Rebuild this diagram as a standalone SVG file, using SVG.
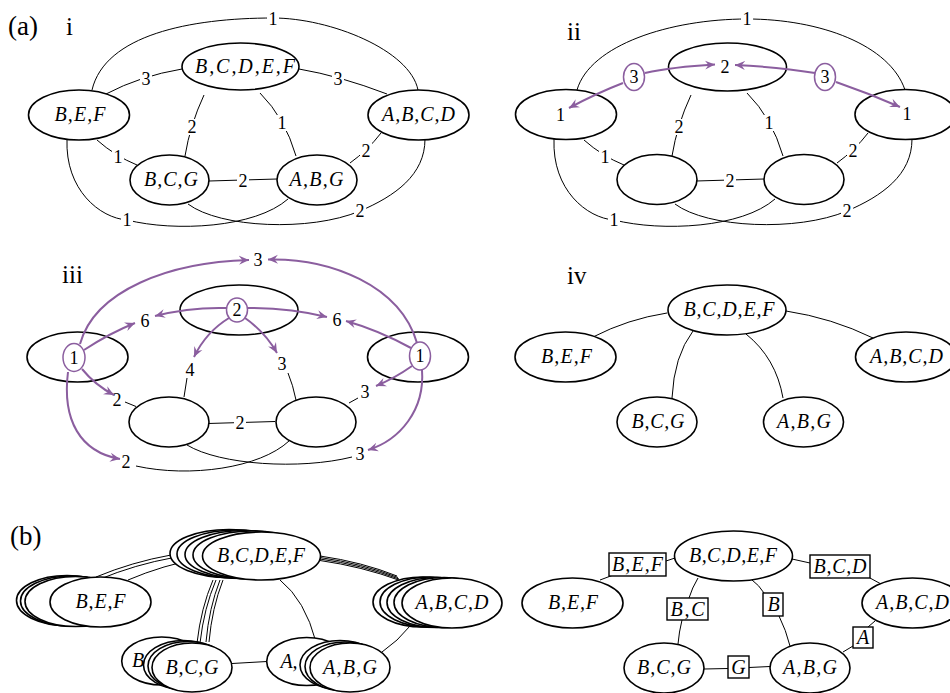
<svg xmlns="http://www.w3.org/2000/svg" width="950" height="693" viewBox="0 0 950 693">
<defs>
<style>
.n{fill:#fff;stroke:#000;stroke-width:1.6}
.e{fill:none;stroke:#000;stroke-width:1}
.p{fill:none;stroke:#8b5e9f;stroke-width:2;marker-end:url(#ah)}
.pc{fill:#fff;stroke:#8b5e9f;stroke-width:1.5}
.t{font-family:"Liberation Serif",serif;font-style:italic;font-size:20px;text-anchor:middle}
.d{font-family:"Liberation Serif",serif;font-size:18px;text-anchor:middle}
.h{font-family:"Liberation Serif",serif;font-size:25px}
.bg{fill:#fff}
.bx{fill:#fff;stroke:#000;stroke-width:1.4}
</style>
<marker id="ah" viewBox="-10 -5 11 10" refX="0" refY="0" markerWidth="11" markerHeight="10" markerUnits="userSpaceOnUse" orient="auto">
<path d="M0,0 L-10,-4.5 L-6.5,0 L-10,4.5 Z" fill="#8b5e9f"/>
</marker>
</defs>
<rect width="950" height="693" fill="#fff"/>

<!-- headings -->
<text class="h" x="8" y="35" font-size="27" style="font-size:27px">(a)</text>
<text class="h" x="66" y="35">i</text>
<text class="h" x="567" y="40">ii</text>
<text class="h" x="62" y="283">iii</text>
<text class="h" x="567" y="284">iv</text>
<text class="h" x="10" y="545" style="font-size:27px">(b)</text>

<!-- ================= connectors ================= -->
<g id="connectors">
 <!-- panel i -->
 <g id="conn-i">
  <path class="e" d="M92,90 C105,35 190,18 273,18 C330,18 410,50 418,90"/>
  <path class="e" d="M106,94 Q140,76 182,69"/>
  <path class="e" d="M299,69 Q340,76 387,94"/>
  <path class="e" d="M204,95 Q190,125 185,156"/>
  <path class="e" d="M260,93 Q285,118 296,156"/>
  <path class="e" d="M97,140 Q115,156 137,165"/>
  <path class="e" d="M209,181 L277,179"/>
  <path class="e" d="M350,163 Q368,150 381,133"/>
  <path class="e" d="M67,139 C65,190 100,218 127,220 C175,232 255,228 288,199"/>
  <path class="e" d="M188,204 C220,228 310,232 360,211 C395,196 425,175 425,139"/>
  <rect class="bg" x="267" y="11" width="12" height="16"/><text class="d" x="273" y="25">1</text>
  <rect class="bg" x="140" y="71" width="12" height="16"/><text class="d" x="146" y="85">3</text>
  <rect class="bg" x="332" y="71" width="12" height="16"/><text class="d" x="338" y="85">3</text>
  <rect class="bg" x="186" y="119" width="12" height="16"/><text class="d" x="192" y="133">2</text>
  <rect class="bg" x="276" y="115" width="12" height="16"/><text class="d" x="282" y="129">1</text>
  <rect class="bg" x="112" y="149" width="12" height="16"/><text class="d" x="118" y="163">1</text>
  <rect class="bg" x="237" y="173" width="12" height="16"/><text class="d" x="243" y="187">2</text>
  <rect class="bg" x="360" y="143" width="12" height="16"/><text class="d" x="366" y="157">2</text>
  <rect class="bg" x="121" y="212" width="12" height="16"/><text class="d" x="127" y="226">1</text>
  <rect class="bg" x="354" y="203" width="12" height="16"/><text class="d" x="360" y="217">2</text>
 </g>

 <!-- panel ii -->
 <g id="conn-ii">
  <path class="e" d="M577,90 C590,45 670,19 747,19 C820,19 890,45 905,90"/>
  <rect class="bg" x="741" y="11" width="12" height="16"/><text class="d" x="747" y="25">1</text>
  <g transform="translate(487,0)">
   <path class="e" d="M204,95 Q190,125 185,156"/>
   <path class="e" d="M260,93 Q285,118 296,156"/>
   <path class="e" d="M97,140 Q115,156 137,165"/>
   <path class="e" d="M209,181 L277,179"/>
   <path class="e" d="M350,163 Q368,150 381,133"/>
   <path class="e" d="M67,139 C65,190 100,218 127,220 C175,232 255,228 288,199"/>
   <path class="e" d="M188,204 C220,228 310,232 360,211 C395,196 425,175 425,139"/>
   <rect class="bg" x="186" y="119" width="12" height="16"/><text class="d" x="192" y="133">2</text>
   <rect class="bg" x="276" y="115" width="12" height="16"/><text class="d" x="282" y="129">1</text>
   <rect class="bg" x="112" y="149" width="12" height="16"/><text class="d" x="118" y="163">1</text>
   <rect class="bg" x="237" y="173" width="12" height="16"/><text class="d" x="243" y="187">2</text>
   <rect class="bg" x="360" y="143" width="12" height="16"/><text class="d" x="366" y="157">2</text>
   <rect class="bg" x="121" y="212" width="12" height="16"/><text class="d" x="127" y="226">1</text>
   <rect class="bg" x="354" y="203" width="12" height="16"/><text class="d" x="360" y="217">2</text>
  </g>
 </g>

 <!-- panel iii -->
 <g id="conn-iii">
  <path class="e" d="M208,423.5 L275,421.5"/>
  <path class="e" d="M187,378 L184,397"/>
  <path class="e" d="M288,373 Q293,385 296,400"/>
  <path class="e" d="M125,402 L136,406.5"/>
  <path class="e" d="M349,403 L358,398"/>
  <path class="e" d="M136,466 C190,478 260,468 289,441"/>
  <path class="e" d="M187,445 C220,465 300,470 352,457"/>
  <rect class="bg" x="234" y="415" width="12" height="16"/><text class="d" x="240" y="429">2</text>
  <text class="d" x="258" y="266">3</text>
  <text class="d" x="145" y="327">6</text>
  <text class="d" x="337" y="326">6</text>
  <text class="d" x="190" y="376">4</text>
  <text class="d" x="282" y="370">3</text>
  <text class="d" x="117" y="406">2</text>
  <text class="d" x="126" y="468">2</text>
  <text class="d" x="365" y="398">3</text>
  <text class="d" x="360" y="460">3</text>
 </g>

 <!-- panel iv -->
 <g id="conn-iv">
  <path class="e" d="M667,313 Q628,319 593,337"/>
  <path class="e" d="M786,311 Q832,318 873,338"/>
  <path class="e" d="M693,331 Q674,356 672,398"/>
  <path class="e" d="M746,334 Q776,358 783,398"/>
 </g>

 <!-- panel b left -->
 <g id="conn-b-left">
  <path class="e" d="M96,577 Q132,562 171,555"/>
  <path class="e" d="M99,579.5 Q135,564.5 174,557.5"/>
  <path class="e" d="M128,580 Q163,565 202,558"/>
  <path class="e" d="M213,580 Q201,608 197,643"/>
  <path class="e" d="M216,580 Q204,608 200,643"/>
  <path class="e" d="M220,580 Q209,608 206,642"/>
  <path class="e" d="M223,580 Q212,608 209,642"/>
  <path class="e" d="M320,556 Q362,562 397,576"/>
  <path class="e" d="M320,557.5 Q362,563.5 398,577.5"/>
  <path class="e" d="M320,559 Q362,565 399,579"/>
  <path class="e" d="M320,560.5 Q362,566.5 400,580.5"/>
  <path class="e" d="M280,580 Q305,600 316,642"/>
  <path class="e" d="M232,663.5 L267,661.5"/>
  <path class="e" d="M382,652 Q398,641 410,626"/>
 </g>

 <!-- panel b right -->
 <g id="conn-b-right">
  <path class="e" d="M600,580 L612,575.5"/>
  <path class="e" d="M666,561 L675,558"/>
  <path class="e" d="M792,559 L810,563"/>
  <path class="e" d="M870,578 L881,584"/>
  <path class="e" d="M698,578 Q692,588 689,598"/>
  <path class="e" d="M682,620 Q679,632 678,644"/>
  <path class="e" d="M752,580 Q759,585 764,593"/>
  <path class="e" d="M779,616 Q786,630 790,646"/>
  <path class="e" d="M843,652 L853,646"/>
  <path class="e" d="M868,627 L875,621"/>
  <path class="e" d="M704,669 L728,668.5"/>
  <path class="e" d="M749,667.5 L770,666.5"/>
 </g>
</g>

<!-- ================= nodes ================= -->
<!-- panel i -->
<g id="i-BCDEF"><ellipse class="n" cx="240.5" cy="66.5" rx="58.5" ry="23.5"/><text class="t" x="245" y="73" textLength="100" lengthAdjust="spacing">B,C,D,E,F</text></g>
<g id="i-BEF"><ellipse class="n" cx="79" cy="115" rx="50.5" ry="25"/><text class="t" x="80" y="121" textLength="51">B,E,F</text></g>
<g id="i-ABCD"><ellipse class="n" cx="418.5" cy="115" rx="50.5" ry="25"/><text class="t" x="418.5" y="121" textLength="73">A,B,C,D</text></g>
<g id="i-BCG"><ellipse class="n" cx="169.5" cy="180" rx="39.5" ry="25"/><text class="t" x="171" y="186" textLength="54">B,C,G</text></g>
<g id="i-ABG"><ellipse class="n" cx="317" cy="180" rx="40" ry="25"/><text class="t" x="316.5" y="186" textLength="54">A,B,G</text></g>

<!-- panel ii -->
<g id="ii-BCDEF"><ellipse class="n" cx="727.5" cy="67" rx="59" ry="24"/><text class="d" x="725" y="72.5">2</text></g>
<g id="ii-BEF"><ellipse class="n" cx="566" cy="114.5" rx="50.5" ry="25"/><text class="d" x="560.5" y="120.5">1</text></g>
<g id="ii-ABCD"><ellipse class="n" cx="905.5" cy="114.5" rx="50.5" ry="25"/><text class="d" x="907" y="120">1</text></g>
<g id="ii-BCG"><ellipse class="n" cx="657" cy="179.5" rx="40" ry="25"/></g>
<g id="ii-ABG"><ellipse class="n" cx="804" cy="179.5" rx="40" ry="25"/></g>

<!-- panel iii -->
<g id="iii-BCDEF"><ellipse class="n" cx="239" cy="310" rx="59" ry="25"/></g>
<g id="iii-BEF"><ellipse class="n" cx="77.5" cy="357" rx="50.5" ry="25"/></g>
<g id="iii-ABCD"><ellipse class="n" cx="418" cy="357" rx="50.5" ry="25"/></g>
<g id="iii-BCG"><ellipse class="n" cx="169" cy="422" rx="40" ry="25"/></g>
<g id="iii-ABG"><ellipse class="n" cx="316" cy="422" rx="40" ry="25"/></g>

<!-- panel iv -->
<g id="iv-BCDEF"><ellipse class="n" cx="727" cy="310" rx="59" ry="25"/><text class="t" x="729" y="316" textLength="91">B,C,D,E,F</text></g>
<g id="iv-BEF"><ellipse class="n" cx="565.5" cy="357" rx="50.5" ry="25"/><text class="t" x="566.5" y="363" textLength="51">B,E,F</text></g>
<g id="iv-ABCD"><ellipse class="n" cx="906" cy="357" rx="50.5" ry="25"/><text class="t" x="906.5" y="363" textLength="73">A,B,C,D</text></g>
<g id="iv-BCG"><ellipse class="n" cx="657" cy="422" rx="40" ry="25"/><text class="t" x="658" y="428" textLength="53">B,C,G</text></g>
<g id="iv-ABG"><ellipse class="n" cx="803.5" cy="422" rx="40" ry="25"/><text class="t" x="804" y="428" textLength="54">A,B,G</text></g>

<!-- panel b left -->
<g id="bL-BCDEF">
 <ellipse class="n" cx="229" cy="553.5" rx="59" ry="24"/>
 <ellipse class="n" cx="236" cy="554" rx="59" ry="24"/>
 <ellipse class="n" cx="244" cy="554.5" rx="59" ry="24"/>
 <ellipse class="n" cx="252" cy="555" rx="59" ry="24"/>
 <ellipse class="n" cx="261.5" cy="556" rx="59" ry="24"/>
 <text class="t" x="261" y="562" textLength="88">B,C,D,E,F</text>
</g>
<g id="bL-BEF">
 <ellipse class="n" cx="67" cy="600.5" rx="50.5" ry="25"/>
 <ellipse class="n" cx="71" cy="601" rx="50.5" ry="25"/>
 <ellipse class="n" cx="75.5" cy="601.5" rx="50.5" ry="25"/>
 <ellipse class="n" cx="100.5" cy="602" rx="50.5" ry="25"/>
 <text class="t" x="100.5" y="608" textLength="50">B,E,F</text>
</g>
<g id="bL-ABCD">
 <ellipse class="n" cx="423" cy="602" rx="50" ry="25"/>
 <ellipse class="n" cx="430" cy="602" rx="50" ry="25"/>
 <ellipse class="n" cx="437" cy="602.5" rx="50" ry="25"/>
 <ellipse class="n" cx="444" cy="602.5" rx="50" ry="25"/>
 <ellipse class="n" cx="452" cy="603" rx="50" ry="25"/>
 <text class="t" x="452" y="609" textLength="73">A,B,C,D</text>
</g>
<g id="bL-BCG">
 <ellipse class="n" cx="161.7" cy="661" rx="40" ry="24"/>
 <text class="t" x="138" y="667">B</text>
 <ellipse class="n" cx="183.5" cy="665" rx="40" ry="24.5"/>
 <ellipse class="n" cx="188" cy="666" rx="40" ry="24.5"/>
 <ellipse class="n" cx="192" cy="667.5" rx="40" ry="24.5"/>
 <text class="t" x="192" y="673.5" textLength="53">B,C,G</text>
</g>
<g id="bL-ABG">
 <ellipse class="n" cx="306.7" cy="661.5" rx="40" ry="24"/>
 <text class="t" x="289" y="667.5">A,</text>
 <ellipse class="n" cx="340" cy="665" rx="40" ry="24.5"/>
 <ellipse class="n" cx="345" cy="666.5" rx="40" ry="24.5"/>
 <ellipse class="n" cx="350" cy="667.5" rx="40" ry="24.5"/>
 <text class="t" x="350" y="673.5" textLength="54">A,B,G</text>
</g>

<!-- panel b right -->
<g id="bR-BCDEF"><ellipse class="n" cx="733.5" cy="556" rx="59" ry="25"/><text class="t" x="733" y="562" textLength="88">B,C,D,E,F</text></g>
<g id="bR-BEF"><ellipse class="n" cx="572.5" cy="603" rx="50.5" ry="25"/><text class="t" x="573" y="609" textLength="50">B,E,F</text></g>
<g id="bR-ABCD"><ellipse class="n" cx="912.5" cy="603" rx="50.5" ry="25"/><text class="t" x="912.5" y="609" textLength="73">A,B,C,D</text></g>
<g id="bR-BCG"><ellipse class="n" cx="664" cy="668" rx="40" ry="25"/><text class="t" x="664" y="674" textLength="54">B,C,G</text></g>
<g id="bR-ABG"><ellipse class="n" cx="810" cy="668" rx="40" ry="25"/><text class="t" x="810" y="674" textLength="54">A,B,G</text></g>
<g id="bR-sBEF"><rect class="bx" x="609" y="553" width="57" height="23"/><text class="t" x="637.5" y="571" textLength="51">B,E,F</text></g>
<g id="bR-sBCD"><rect class="bx" x="810" y="555" width="60" height="23"/><text class="t" x="840" y="573" textLength="53">B,C,D</text></g>
<g id="bR-sBC"><rect class="bx" x="667" y="598" width="41" height="22"/><text class="t" x="687.5" y="615.5" textLength="34">B,C</text></g>
<g id="bR-sB"><rect class="bx" x="763" y="593" width="20" height="23"/><text class="t" x="773.5" y="611">B</text></g>
<g id="bR-sA"><rect class="bx" x="853" y="627" width="20" height="21"/><text class="t" x="863" y="644">A</text></g>
<g id="bR-sG"><rect class="bx" x="728" y="656" width="21" height="22"/><text class="t" x="738.5" y="673.5">G</text></g>

<!-- ================= purple message arrows (drawn over nodes) ================= -->
<g id="messages">
 <path class="p" d="M623,83 Q597,93 569,108"/>
 <path class="p" d="M645,73 Q672,67 715,64.5"/>
 <path class="p" d="M815,73 Q780,67 735,65"/>
 <path class="p" d="M836,82 Q868,93 900,107"/>
 <path class="p" d="M80,344 C95,290 170,262 249,260"/>
 <path class="p" d="M417,343 C400,285 330,258 268,259.5"/>
 <path class="p" d="M84,350 Q110,333 135,323"/>
 <path class="p" d="M411,348 Q378,330 346,321"/>
 <path class="p" d="M226,308 Q190,307 155,316"/>
 <path class="p" d="M248,308 Q290,308 327,317"/>
 <path class="p" d="M229,318 Q206,332 194,357"/>
 <path class="p" d="M245,318 Q265,332 277,353"/>
 <path class="p" d="M82,369 Q95,385 114,395"/>
 <path class="p" d="M68,372 C62,420 80,452 120,459"/>
 <path class="p" d="M412,366 Q395,378 376,386"/>
 <path class="p" d="M422,370 C425,410 400,440 368,450"/>
</g>

<!-- purple circle nodes -->
<g id="ii-w1"><ellipse class="pc" cx="634" cy="77" rx="10.5" ry="13.5"/><text class="d" x="634" y="83">3</text></g>
<g id="ii-w2"><ellipse class="pc" cx="825" cy="77" rx="10.5" ry="13.5"/><text class="d" x="825" y="83">3</text></g>
<g id="iii-c1"><ellipse class="pc" cx="74" cy="357.5" rx="11" ry="14"/><text class="d" x="74" y="364">1</text></g>
<g id="iii-c2"><ellipse class="pc" cx="237" cy="310" rx="10.5" ry="12"/><text class="d" x="237" y="316">2</text></g>
<g id="iii-c3"><ellipse class="pc" cx="420" cy="356" rx="10.5" ry="14"/><text class="d" x="420" y="362">1</text></g>
</svg>
